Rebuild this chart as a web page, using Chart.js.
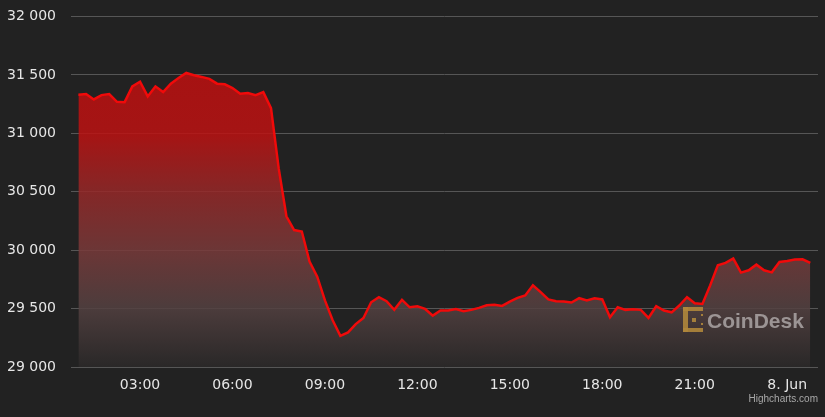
<!DOCTYPE html>
<html>
<head>
<meta charset="utf-8">
<script src="https://cdn.jsdelivr.net/npm/chart.js@4"></script>
<style>
  html, body { margin: 0; padding: 0; background: #222222; }
  #wrap { width: 825px; height: 417px; }
</style>
</head>
<body>
<div id="wrap"><canvas id="priceChart" width="825" height="417"></canvas></div>
<script>
// BTC price, 7 Jun 01:00 -> 8 Jun 00:45, every 15 min
const startHour = 1;
const stepHours = 0.25;
const prices = [
  31330, 31336, 31290, 31327, 31336, 31270, 31267, 31402, 31442, 31316,
  31402, 31353, 31425, 31474, 31517, 31497, 31483, 31466, 31425, 31420,
  31388, 31339, 31345, 31327, 31353, 31216, 30700, 30290, 30172, 30160,
  29902, 29773, 29570, 29400, 29267, 29296, 29367, 29420, 29554, 29597,
  29563, 29489, 29575, 29511, 29520, 29497, 29440, 29483, 29483, 29497,
  29477, 29489, 29506, 29529, 29532, 29523, 29560, 29592, 29612, 29700,
  29641, 29578, 29563, 29560, 29552, 29589, 29569, 29589, 29578, 29425,
  29511, 29489, 29494, 29489, 29420, 29520, 29483, 29468, 29526, 29597,
  29546, 29540, 29698, 29871, 29891, 29928, 29808, 29828, 29876, 29828,
  29810, 29899, 29908, 29920, 29922, 29891
];
const tickHours = [3, 6, 9, 12, 15, 18, 21, 24];
const tickLabels = ['03:00', '06:00', '09:00', '12:00', '15:00', '18:00', '21:00', '8. Jun'];

const points = prices.map((p, i) => ({ x: startHour + i * stepHours, y: p }));

const fmt = v => String(v).replace(/\B(?=(\d{3})+(?!\d))/g, ' ');

function areaFill(context) {
  const chart = context.chart;
  const area = chart.chartArea;
  if (!area) return 'rgba(180,15,15,0.85)';
  const g = chart.ctx.createLinearGradient(0, area.top, 0, area.bottom);
  g.addColorStop(0, 'rgba(191,13,13,0.85)');
  g.addColorStop(0.34, 'rgba(188,18,18,0.85)');
  g.addColorStop(0.5, 'rgba(150,40,40,0.85)');
  g.addColorStop(0.67, 'rgba(120,58,58,0.85)');
  g.addColorStop(0.83, 'rgba(84,65,65,0.85)');
  g.addColorStop(1, 'rgba(43,41,41,0.85)');
  return g;
}

// watermark + credits
const extras = {
  id: 'extras',
  afterDatasetsDraw(chart) {
    const c = chart.ctx;
    c.save();
    c.fillStyle = 'rgba(176,135,60,0.9)';
    c.fillRect(683, 307, 20, 4);
    c.fillRect(683, 307, 5, 25);
    c.fillRect(683, 328, 20, 4);
    c.fillRect(692, 318, 4, 4);
    c.fillRect(701, 314, 2, 2);
    c.fillRect(701, 323, 2, 2);
    c.fillStyle = 'rgba(185,180,180,0.75)';
    c.font = 'bold 21px "Liberation Sans", Arial, sans-serif';
    c.textBaseline = 'alphabetic';
    c.fillText('CoinDesk', 707, 328);
    c.restore();
  },
  afterDraw(chart) {
    const c = chart.ctx;
    c.save();
    c.fillStyle = '#a8a8a8';
    c.font = '10px "Liberation Sans", Arial, sans-serif';
    c.textAlign = 'right';
    c.fillText('Highcharts.com', 818, 402);
    c.restore();
  }
};

new Chart(document.getElementById('priceChart').getContext('2d'), {
  type: 'line',
  data: {
    datasets: [{
      data: points,
      borderColor: '#f00a0a',
      borderWidth: 2.5,
      pointRadius: 0,
      tension: 0,
      fill: 'start',
      backgroundColor: areaFill
    }]
  },
  options: {
    responsive: false,
    animation: false,
    layout: { padding: { top: 16.5, right: 7, left: 0, bottom: 0 } },
    plugins: { legend: { display: false }, tooltip: { enabled: false } },
    scales: {
      x: {
        type: 'linear',
        min: 0.76,
        max: 25.0,
        afterBuildTicks: s => { s.ticks = tickHours.map(v => ({ value: v })); },
        afterFit: s => { s.height = 50; },
        grid: { display: false },
        border: { display: false },
        ticks: {
          color: '#e6e6e6',
          padding: 2,
          maxRotation: 0,
          autoSkip: false,
          font: { family: 'DejaVu Sans', size: 14 },
          callback: v => tickLabels[tickHours.indexOf(v)] || ''
        }
      },
      y: {
        min: 29000,
        max: 32000,
        afterFit: s => { s.width = 71; s.paddingTop = 0; s.paddingBottom = 0; },
        grid: { color: '#565656', lineWidth: 1, drawTicks: false },
        border: { display: false },
        ticks: {
          stepSize: 500,
          color: '#e6e6e6',
          padding: 15,
          font: { family: 'DejaVu Sans', size: 14 },
          callback: v => fmt(v)
        }
      }
    }
  },
  plugins: [extras]
});
</script>
</body>
</html>
